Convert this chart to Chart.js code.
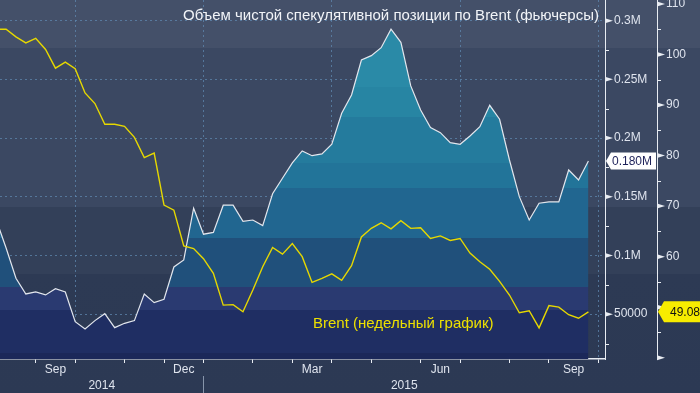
<!DOCTYPE html>
<html lang="ru">
<head>
<meta charset="utf-8">
<title>Brent</title>
<script src="https://cdn.jsdelivr.net/npm/chart.js@4.4.1/dist/chart.umd.min.js"></script>
<style>
  html, body { margin: 0; padding: 0; }
  body {
    width: 700px; height: 393px; overflow: hidden; position: relative;
    background: linear-gradient(to bottom,
      #445069 0px, #445069 48px,
      #3b4862 48px, #3b4862 207px,
      #334059 207px, #334059 274px,
      #2d3a54 274px, #2c3954 393px);
    font-family: "Liberation Sans", Arial, sans-serif;
  }
  #chart { position: absolute; left: 0; top: 0; }
  .title { position: absolute; right: 101px; top: 6px; color: #f2f4f8; font-size: 15px; white-space: nowrap; }
  .series { position: absolute; left: 313px; top: 314px; color: #ece000; font-size: 15px; white-space: nowrap; }
</style>
</head>
<body>
<canvas id="chart" width="700" height="393"></canvas>
<div class="title">Объем чистой спекулятивной позиции по Brent (фьючерсы)</div>
<div class="series">Brent (недельный график)</div>
<script>
/* ============ ДАННЫЕ (недели, индекс -1 ... 59) ============ */
const netLong = [
  130300,
  106400, 80600, 67200, 68900, 66400, 71700, 68900, 43600, 37400, 44500,
  50400, 38500, 42200, 44500, 67200, 59800, 62700, 90200, 96200, 140200,
  118100, 119600, 142800, 142800, 129000, 130200, 125400, 152600, 165800, 178800,
  189000, 185000, 186500, 194700, 221100, 236700, 266500, 270200, 277000, 292700,
  281600, 244400, 223900, 208900, 204600, 196100, 194700, 201800, 209700, 227900,
  216000, 181300, 150100, 130200, 144500, 145600, 145600, 172800, 164300, 180500
];

const brent = [
  105.0,
  105.0, 103.5, 102.3, 103.2, 101.0, 97.3, 98.5, 97.2, 92.4, 90.3,
  86.2, 86.2, 85.8, 83.6, 79.6, 80.5, 70.2, 69.2, 62.1, 61.6,
  59.6, 56.7, 50.4, 50.5, 49.1, 53.4, 58.0, 61.8, 60.5, 62.6,
  60.0, 54.9, 55.7, 56.6, 55.3, 58.2, 63.9, 65.6, 66.7, 65.5,
  67.1, 65.6, 65.7, 63.6, 64.1, 63.2, 63.6, 60.7, 59.0, 57.5,
  55.1, 52.4, 48.9, 49.3, 45.9, 50.3, 50.0, 48.5, 47.8, 49.08
];

// ось X: номера недель, где начинается месяц / квартал
const monthTicks = [3, 7, 12, 16, 20, 25, 29, 33, 37, 42, 46, 51, 55, 60];
const quarterTicks = [7, 20, 33, 46, 60];
const monthLabels = ["Sep", "Dec", "Mar", "Jun", "Sep"];
const monthLabelAt = [5, 18, 31, 44, 57.5];
const years = ["2014", "2015"];
const yearBreak = 20;

// оси Y
const volMajor = [50000, 100000, 150000, 200000, 250000, 300000];
const volMajorLabels = ["50000", "0.1M", "0.15M", "0.2M", "0.25M", "0.3M"];
const volMinor = [25000, 75000, 125000, 175000, 225000, 275000];
const brentMajor = [40, 50, 60, 70, 80, 90, 100, 110];
const brentMajorLabels = ["", "", "60", "70", "80", "90", "100", "110"];
const brentMinor = [45, 55, 65, 75, 85, 95, 105];

/* ============ СТИЛИ ============ */
const FONT = '"Liberation Sans", Arial, sans-serif';
const textColor = "#dfe4ee";
const axisColor = "#e8ecf2";
const gridColor = "rgba(95, 135, 175, 0.75)";

// полосы заливки под белой линией: [нижняя граница в px от верха области, цвет]
const fillBands = [
  [87, "#2a8aa7"], [117, "#2785a3"], [163, "#247b9d"], [188, "#227499"],
  [238, "#216690"], [287, "#20507b"], [310, "#2a3a71"], [353, "#1f2e63"], [400, "#1b2859"]
];

function bandFill(context) {
  const chart = context.chart;
  const area = chart.chartArea;
  if (!area) return fillBands[0][1];
  const h = area.bottom - area.top;
  const g = chart.ctx.createLinearGradient(0, area.top, 0, area.bottom);
  let prev = 0;
  fillBands.forEach(([end, col]) => {
    g.addColorStop(Math.min(prev / h, 1), col);
    g.addColorStop(Math.min(end / h, 1), col);
    prev = end;
  });
  return g;
}

/* ============ ПЛАГИН: засечки, подписи X, метки последних значений ============ */
const decor = {
  id: "decor",
  afterDraw(chart) {
    const c = chart.ctx;
    const { x, y1, y2 } = chart.scales;
    c.save();

    // засечки на правых осях
    [[y1, volMajor, volMinor], [y2, brentMajor, brentMinor]].forEach(([s, maj, min]) => {
      const x0 = s.left;
      c.fillStyle = axisColor;
      c.strokeStyle = axisColor;
      maj.forEach(v => {
        const py = s.getPixelForValue(v);
        c.beginPath();
        c.moveTo(x0, py - 2.5);
        c.lineTo(x0 + 8, py);
        c.lineTo(x0, py + 2.5);
        c.closePath();
        c.fill();
      });
      c.lineWidth = 1;
      min.forEach(v => {
        const py = Math.round(s.getPixelForValue(v)) + 0.5;
        c.beginPath();
        c.moveTo(x0, py);
        c.lineTo(x0 + 4, py);
        c.stroke();
      });
    });

    // подписи месяцев и лет
    c.font = "12px " + FONT;
    c.fillStyle = textColor;
    c.textAlign = "center";
    c.textBaseline = "middle";
    monthLabels.forEach((m, i) => c.fillText(m, x.getPixelForValue(monthLabelAt[i]), 370));
    const brk = x.getPixelForValue(yearBreak);
    c.fillText(years[0], (x.left + brk) / 2, 386);
    c.fillText(years[1], (brk + x.right) / 2, 386);
    c.strokeStyle = "#8694aa";
    c.lineWidth = 1;
    c.beginPath();
    c.moveTo(Math.round(brk) + 0.5, 376);
    c.lineTo(Math.round(brk) + 0.5, 393);
    c.stroke();

    // метка последнего значения объема
    const lastVol = netLong[netLong.length - 1];
    let py = y1.getPixelForValue(lastVol);
    let x0 = y1.left + 1;
    c.fillStyle = "#ffffff";
    c.beginPath();
    c.moveTo(x0, py);
    c.lineTo(x0 + 5, py - 8.5);
    c.lineTo(y1.right - 1, py - 8.5);
    c.lineTo(y1.right - 1, py + 8.5);
    c.lineTo(x0 + 5, py + 8.5);
    c.closePath();
    c.fill();
    c.fillStyle = "#1d2159";
    c.textAlign = "left";
    c.fillText((lastVol / 1e6).toFixed(3) + "M", x0 + 6, py + 0.5);

    // метка последней цены Brent
    const lastBrent = brent[brent.length - 1];
    py = y2.getPixelForValue(lastBrent);
    x0 = y2.left + 1;
    c.fillStyle = "#f7ec00";
    c.beginPath();
    c.moveTo(x0, py);
    c.lineTo(x0 + 6, py - 10.5);
    c.lineTo(y2.right, py - 10.5);
    c.lineTo(y2.right, py + 10.5);
    c.lineTo(x0 + 6, py + 10.5);
    c.closePath();
    c.fill();
    c.fillStyle = "#111111";
    c.fillText(lastBrent.toFixed(2), x0 + 12, py + 0.5);

    c.restore();
  }
};

/* ============ ГРАФИК ============ */
const toPoints = arr => arr.map((v, k) => ({ x: k - 1, y: v }));
const noPad = s => { s.paddingTop = 0; s.paddingBottom = 0; s.paddingLeft = 0; s.paddingRight = 0; };

new Chart(document.getElementById("chart"), {
  type: "line",
  data: {
    datasets: [
      {
        label: "Brent",
        data: toPoints(brent),
        yAxisID: "y2",
        borderColor: "#e6d800",
        borderWidth: 1.4,
        pointRadius: 0,
        tension: 0,
        fill: false,
        order: 0
      },
      {
        label: "Net long",
        data: toPoints(netLong),
        yAxisID: "y1",
        borderColor: "#e3e7ee",
        borderWidth: 1.2,
        pointRadius: 0,
        tension: 0,
        fill: "start",
        backgroundColor: bandFill,
        order: 1
      }
    ]
  },
  options: {
    responsive: false,
    animation: false,
    layout: { padding: 0 },
    plugins: { legend: { display: false }, tooltip: { enabled: false } },
    scales: {
      x: {
        type: "linear",
        position: "bottom",
        min: -0.618,
        max: 60.68,
        z: 1,
        afterBuildTicks: s => { s.ticks = monthTicks.map(v => ({ value: v })); },
        afterFit: s => { s.height = 34; noPad(s); },
        ticks: { display: false, autoSkip: false },
        grid: {
          drawTicks: true,
          tickLength: 4,
          tickColor: axisColor,
          color: ctx => (ctx.tick && quarterTicks.includes(ctx.tick.value)) ? gridColor : "rgba(0,0,0,0)"
        },
        border: { display: true, color: axisColor, width: 1.5, dash: [2, 3] }
      },
      y1: {
        type: "linear",
        position: "right",
        weight: 0,
        min: 11800,
        max: 317600,
        z: 1,
        afterBuildTicks: s => { s.ticks = volMinor.concat(volMajor).sort((a, b) => a - b).map(v => ({ value: v })); },
        afterFit: s => { s.width = 52; noPad(s); },
        ticks: {
          autoSkip: false,
          padding: 9,
          color: textColor,
          font: { family: FONT, size: 12 },
          callback: v => { const i = volMajor.indexOf(v); return i >= 0 ? volMajorLabels[i] : ""; }
        },
        grid: {
          drawTicks: false,
          color: ctx => (ctx.tick && volMajor.includes(ctx.tick.value)) ? gridColor : "rgba(0,0,0,0)"
        },
        border: { display: true, color: axisColor, width: 1, dash: [2, 3] }
      },
      y2: {
        type: "linear",
        position: "right",
        weight: 1,
        min: 39.74,
        max: 110.79,
        afterBuildTicks: s => { s.ticks = brentMinor.concat(brentMajor).sort((a, b) => a - b).map(v => ({ value: v })); },
        afterFit: s => { s.width = 43; noPad(s); },
        ticks: {
          autoSkip: false,
          padding: 9,
          color: textColor,
          font: { family: FONT, size: 12 },
          callback: v => { const i = brentMajor.indexOf(v); return i >= 0 ? brentMajorLabels[i] : ""; }
        },
        grid: { drawTicks: false, drawOnChartArea: false },
        border: { display: true, color: axisColor, width: 1 }
      }
    }
  },
  plugins: [decor]
});
</script>
</body>
</html>
